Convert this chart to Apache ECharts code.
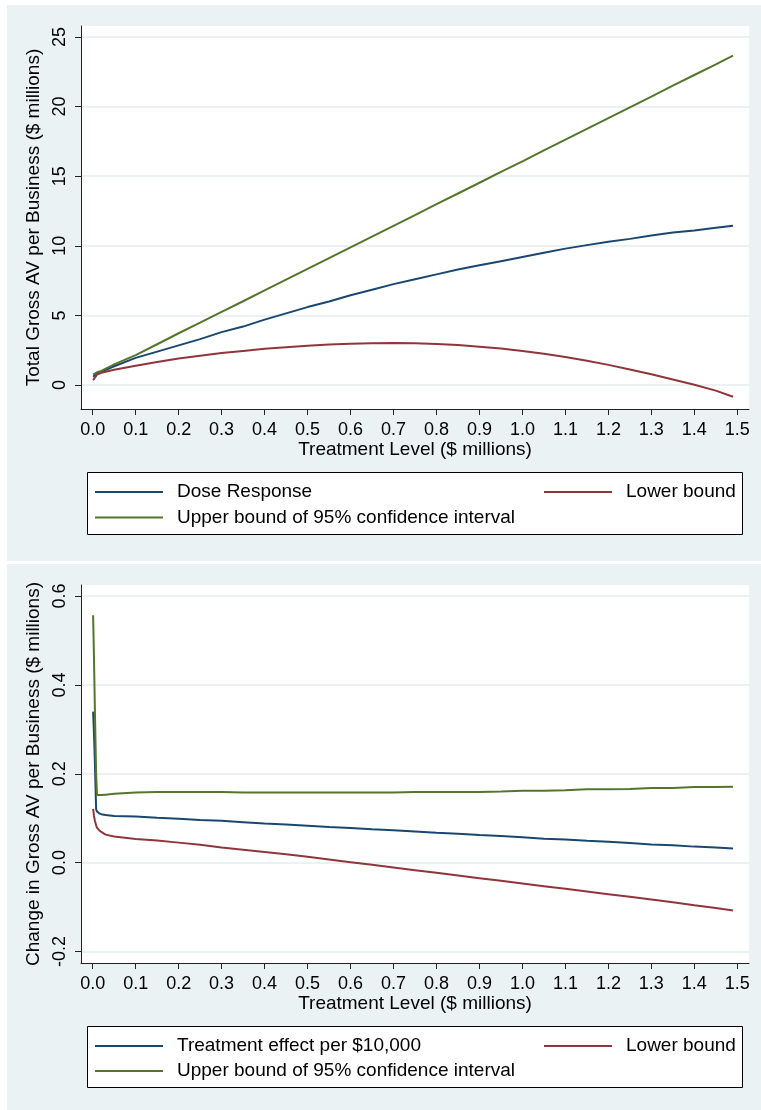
<!DOCTYPE html>
<html>
<head>
<meta charset="utf-8">
<script src="https://cdn.jsdelivr.net/npm/echarts@6/dist/echarts.min.js"></script>
<style>
  html, body { margin: 0; padding: 0; background: #fff; }
  #chart { width: 761px; height: 1110px; }
</style>
</head>
<body>
<div id="chart"></div>
<script>
const FONT = '"Liberation Sans", Arial, sans-serif';
const NAVY = '#1a476f';
const MAROON = '#90353b';
const GREEN = '#55752f';
const PANEL = '#eaf2f3';

// Upper panel: dose response of total gross AV ($ millions) by treatment level ($ millions)
const doseX = [0.001, 0.01, 0.02, 0.05, 0.10, 0.15, 0.20, 0.25, 0.30, 0.35, 0.40, 0.45, 0.50, 0.55, 0.60, 0.65,
  0.70, 0.75, 0.80, 0.85, 0.90, 0.95, 1.00, 1.05, 1.10, 1.15, 1.20, 1.25, 1.30, 1.35, 1.40, 1.45, 1.49];
const doseResponse = [0.60, 0.85, 0.95, 1.35, 1.95, 2.40, 2.85, 3.30, 3.80, 4.20, 4.70, 5.15, 5.60, 6.00, 6.45, 6.85,
  7.25, 7.60, 7.95, 8.30, 8.60, 8.90, 9.20, 9.50, 9.80, 10.05, 10.30, 10.50, 10.75, 10.95, 11.10, 11.30, 11.45];
const doseLower = [0.35, 0.75, 0.88, 1.10, 1.38, 1.65, 1.90, 2.10, 2.30, 2.45, 2.60, 2.72, 2.83, 2.92, 2.97, 3.00,
  3.02, 3.00, 2.95, 2.88, 2.75, 2.62, 2.45, 2.25, 2.02, 1.75, 1.45, 1.12, 0.78, 0.40, 0.02, -0.40, -0.84];
const doseUpper = [0.75, 0.92, 1.02, 1.48, 2.15, 2.93, 3.72, 4.48, 5.25, 6.02, 6.80, 7.57, 8.34, 9.12, 9.89, 10.66,
  11.44, 12.21, 12.99, 13.76, 14.53, 15.31, 16.06, 16.85, 17.63, 18.40, 19.17, 19.95, 20.72, 21.50, 22.27, 23.04, 23.66];

// Lower panel: change in gross AV per $10,000 of treatment
const effectX = [0.001, 0.003, 0.005, 0.008, 0.010, 0.015, 0.02, 0.03, 0.05,
  0.10, 0.15, 0.20, 0.25, 0.30, 0.35, 0.40, 0.45, 0.50, 0.55, 0.60, 0.65, 0.70, 0.75, 0.80, 0.85, 0.90, 0.95,
  1.00, 1.05, 1.10, 1.15, 1.20, 1.25, 1.30, 1.35, 1.40, 1.45, 1.49];
const effectPer10k = [0.340, 0.290, 0.230, 0.120, 0.115, 0.111, 0.109, 0.107, 0.105,
  0.104, 0.101, 0.099, 0.096, 0.094, 0.091, 0.088, 0.086, 0.083, 0.080, 0.078, 0.075, 0.073, 0.070, 0.067, 0.065, 0.062, 0.060,
  0.057, 0.054, 0.052, 0.049, 0.047, 0.044, 0.041, 0.039, 0.036, 0.034, 0.032];
const effectLower = [0.121, 0.105, 0.095, 0.084, 0.079, 0.073, 0.069, 0.063, 0.059,
  0.053, 0.050, 0.045, 0.040, 0.034, 0.029, 0.024, 0.019, 0.013, 0.007, 0.001, -0.005, -0.011, -0.017, -0.023, -0.029, -0.035, -0.041,
  -0.047, -0.053, -0.059, -0.065, -0.071, -0.077, -0.083, -0.089, -0.096, -0.102, -0.108];
const effectUpper = [0.557, 0.460, 0.350, 0.200, 0.152, 0.152, 0.152, 0.153, 0.155,
  0.158, 0.159, 0.159, 0.159, 0.159, 0.158, 0.158, 0.158, 0.158, 0.158, 0.158, 0.158, 0.158, 0.159, 0.159, 0.159, 0.159, 0.160,
  0.162, 0.162, 0.163, 0.165, 0.165, 0.166, 0.168, 0.168, 0.170, 0.170, 0.171];

// Tick positions
const xTicks = [0, 0.1, 0.2, 0.3, 0.4, 0.5, 0.6, 0.7, 0.8, 0.9, 1.0, 1.1, 1.2, 1.3, 1.4, 1.5];
const doseTicks = [0, 5, 10, 15, 20, 25];
const effectTicks = [-0.2, 0, 0.2, 0.4, 0.6];

// Text
const xTitle = 'Treatment Level ($ millions)';
const doseTitle = 'Total Gross AV per Business ($ millions)';
const effectTitle = 'Change in Gross AV per Business ($ millions)';
const nameDose = 'Dose Response';
const nameEffect = 'Treatment effect per $10,000';
const nameLower = 'Lower bound';
const nameUpper = 'Upper bound of 95% confidence interval';

const AXIS_COLOR = '#222';

function xAxisCfg(gridIndex, nameGap) {
  return {
    type: 'value', gridIndex, min: -0.0272, max: 1.5272,
    name: xTitle, nameLocation: 'middle', nameGap,
    nameTextStyle: { fontFamily: FONT, fontSize: 19, color: '#000' },
    axisLine: { show: true, onZero: false, lineStyle: { color: AXIS_COLOR, width: 1 } },
    axisTick: { show: true, length: 6, customValues: xTicks, lineStyle: { color: AXIS_COLOR, width: 1 } },
    axisLabel: { customValues: xTicks, formatter: v => v.toFixed(1), margin: 12,
      fontFamily: FONT, fontSize: 18, color: '#000' },
    splitLine: { show: false }
  };
}

function yAxisCfg(gridIndex, min, max, ticks, digits, title, nameGap) {
  return {
    type: 'value', gridIndex, min, max,
    name: title, nameLocation: 'middle', nameGap, nameRotate: 90,
    nameTextStyle: { fontFamily: FONT, fontSize: 19, color: '#000' },
    axisLine: { show: true, onZero: false, lineStyle: { color: AXIS_COLOR, width: 1 } },
    axisTick: { show: true, length: 6, customValues: ticks, lineStyle: { color: AXIS_COLOR, width: 1 } },
    axisLabel: { customValues: ticks, rotate: 90, margin: 12, formatter: v => v.toFixed(digits),
      fontFamily: FONT, fontSize: 18, color: '#000' },
    splitLine: { show: true, lineStyle: { color: PANEL, width: 2 } }
  };
}

function lineSeries(name, xs, ys, color, axisIndex) {
  return {
    type: 'line', name, xAxisIndex: axisIndex, yAxisIndex: axisIndex,
    data: xs.map((x, i) => [x, ys[i]]),
    showSymbol: false, symbol: 'none', silent: true,
    lineStyle: { color, width: 2 }, itemStyle: { color }, z: 3
  };
}

function legendItem(name, left, top) {
  return {
    data: [name], left, top, padding: 0, orient: 'horizontal',
    icon: 'rect', itemWidth: 68, itemHeight: 2, selectedMode: false,
    textStyle: { fontFamily: FONT, fontSize: 19, color: '#000', lineHeight: 20, padding: [0, 0, 0, 9] }
  };
}

const chart = echarts.init(document.getElementById('chart'), null, { renderer: 'canvas' });

chart.setOption({
  backgroundColor: '#fff',
  animation: false,
  graphic: [
    { type: 'rect', z: -100, silent: true, shape: { x: 7, y: 5, width: 754, height: 556 }, style: { fill: PANEL } },
    { type: 'rect', z: -100, silent: true, shape: { x: 7, y: 564, width: 754, height: 546 }, style: { fill: PANEL } },
    { type: 'rect', z: 1, silent: true, shape: { x: 87.5, y: 472.5, width: 655, height: 62 },
      style: { fill: '#fff', stroke: '#000', lineWidth: 1 } },
    { type: 'rect', z: 1, silent: true, shape: { x: 87.5, y: 1026.5, width: 655, height: 61 },
      style: { fill: '#fff', stroke: '#000', lineWidth: 1 } }
  ],
  grid: [
    { left: 81, top: 26, width: 668, height: 383, show: true, backgroundColor: '#fff', borderWidth: 0 },
    { left: 81, top: 585, width: 668, height: 378, show: true, backgroundColor: '#fff', borderWidth: 0 }
  ],
  xAxis: [xAxisCfg(0, 28), xAxisCfg(1, 30)],
  yAxis: [
    yAxisCfg(0, -1.72, 25.79, doseTicks, 0, doseTitle, 34),
    yAxisCfg(1, -0.226, 0.625, effectTicks, 1, effectTitle, 34)
  ],
  legend: [
    legendItem(nameDose, 95, 482),
    legendItem(nameLower, 544, 482),
    legendItem(nameUpper, 95, 507.5),
    legendItem(nameEffect, 95, 1036),
    legendItem(nameLower, 544, 1036),
    legendItem(nameUpper, 95, 1061)
  ],
  series: [
    lineSeries(nameDose, doseX, doseResponse, NAVY, 0),
    lineSeries(nameLower, doseX, doseLower, MAROON, 0),
    lineSeries(nameUpper, doseX, doseUpper, GREEN, 0),
    lineSeries(nameEffect, effectX, effectPer10k, NAVY, 1),
    lineSeries(nameLower, effectX, effectLower, MAROON, 1),
    lineSeries(nameUpper, effectX, effectUpper, GREEN, 1)
  ]
});
</script>
</body>
</html>
